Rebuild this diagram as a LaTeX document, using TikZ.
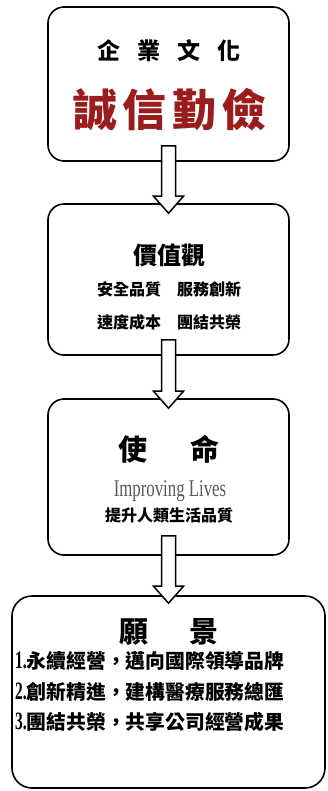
\documentclass[tikz,border=0pt]{standalone}
\usepackage{fontspec}
\setmainfont{Liberation Serif}
\newfontfamily\cjk{Noto Sans CJK TC}
\newfontfamily\condserif[FakeStretch=0.7]{Liberation Serif}
\newfontfamily\digitserif[FakeStretch=0.62]{Liberation Serif}
\usetikzlibrary{calc}
\definecolor{culturered}{RGB}{155,28,28}
\definecolor{missiongray}{RGB}{90,90,90}
\tikzset{
  panel/.style={draw=black, line width=1.6pt, rounded corners=16pt, fill=white, inner sep=0pt},
  blockarrow/.style={draw=black, line width=1.5pt, fill=white, line join=miter},
  txt/.style={inner sep=0pt, font=\cjk\bfseries}
}
\newcommand\blockarrow[5]{%
  \draw[blockarrow] let \p1=(#1.south), \p2=(#2.north) in
    (\x1-7pt,\y1+#3) -- (\x1+7pt,\y1+#3) -- (\x1+7pt,\y2-#4+#5) -- (\x1+15pt,\y2-#4+#5)
    -- (\x1,\y2-#4) -- (\x1-15pt,\y2-#4+#5) -- (\x1-7pt,\y2-#4+#5) -- cycle;}
\newcommand\itemnum[1]{{\digitserif\bfseries\fontsize{25}{25}\selectfont #1}}
\begin{document}
\begin{tikzpicture}[x=1pt,y=-1pt]
\useasboundingbox (0,0) rectangle (327,791);
% boxes
\node[panel, minimum width=241pt, minimum height=154pt] (b1) at (168.5,84) {};
\node[panel, minimum width=241pt, minimum height=151pt] (b2) at (168.5,279.5) {};
\node[panel, minimum width=241pt, minimum height=156pt] (b3) at (168.5,477) {};
\node[panel, rounded corners=20pt, minimum width=313pt, minimum height=192pt] (b4) at (168.5,692) {};
% arrows
\blockarrow{b1}{b2}{16pt}{10pt}{17pt}
\blockarrow{b2}{b3}{16pt}{10pt}{17pt}
\blockarrow{b3}{b4}{20pt}{8pt}{17pt}
% box 1
\node[txt, font=\cjk\bfseries\fontsize{23}{23}\selectfont] (t1a) at (169,51) {企\hspace{17pt}業\hspace{17pt}文\hspace{17pt}化};
\node[txt, text=culturered, font=\cjk\bfseries\fontsize{44}{44}\selectfont] (t1b) at (170,110) {誠\hspace{6pt}信\hspace{6pt}勤\hspace{6pt}儉};
% box 2
\node[txt, font=\cjk\bfseries\fontsize{24}{24}\selectfont] (t2a) at (169,255) {價值觀};
\node[txt, font=\cjk\bfseries\fontsize{16}{16}\selectfont] (t2b) at (169,289) {安全品質\hspace{16pt}服務創新};
\node[txt, font=\cjk\bfseries\fontsize{16}{16}\selectfont] (t2c) at (169,322) {速度成本\hspace{16pt}團結共榮};
% box 3
\node[txt, font=\cjk\bfseries\fontsize{29}{29}\selectfont] (t3a) at (169,449) {使\hspace{43pt}命};
\node[inner sep=0pt, anchor=base, text=missiongray, font=\condserif\fontsize{24}{24}\selectfont] (t3b) at (170,496) {Improving Lives};
\node[txt, font=\cjk\bfseries\fontsize{16}{16}\selectfont] (t3c) at (169,515) {提升人類生活品質};
% box 4
\node[txt, font=\cjk\bfseries\fontsize{29}{29}\selectfont] (t4a) at (169,632) {願\hspace{41pt}景};
\node[txt, anchor=west, font=\cjk\bfseries\fontsize{19.8}{19.8}\selectfont] (t4b) at (15,661) {\itemnum{1.}永續經營，邁向國際領導品牌};
\node[txt, anchor=west, font=\cjk\bfseries\fontsize{19.8}{19.8}\selectfont] (t4c) at (15,692) {\itemnum{2.}創新精進，建構醫療服務總匯};
\node[txt, anchor=west, font=\cjk\bfseries\fontsize{19.8}{19.8}\selectfont] (t4d) at (15,722) {\itemnum{3.}團結共榮，共享公司經營成果};
\end{tikzpicture}
\end{document}
